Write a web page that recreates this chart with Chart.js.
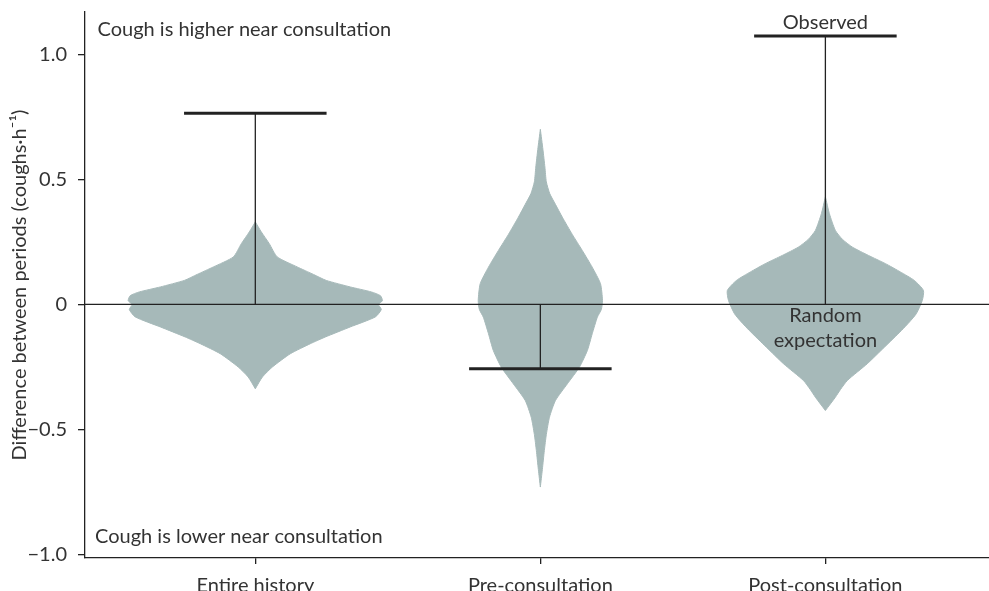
<!DOCTYPE html>
<html>
<head>
<meta charset="utf-8">
<script src="https://cdn.jsdelivr.net/npm/chart.js@4.4.1/dist/chart.umd.min.js"></script>
<style>
  html, body { margin: 0; padding: 0; background: #fff; }
  #wrap { width: 989px; height: 591px; }
</style>
</head>
<body>
<div id="wrap"><canvas id="chart" width="989" height="591"></canvas></div>
<script>
// categories sit at x = 1, 2, 3 on a linear axis
const categories = ['Entire history', 'Pre-consultation', 'Post-consultation'];
const catPos = [1, 2, 3];
const observed = [0.764, -0.257, 1.073];
const yTicks = [-1, -0.5, 0, 0.5, 1];

// violin outlines: y levels (top to bottom) and half-width in x units
const entireY = [0.33, 0.29, 0.243, 0.19, 0.15, 0.12, 0.096, 0.07, 0.05, 0.035, 0.015, 0, -0.02, -0.05, -0.09, -0.13, -0.157, -0.197, -0.25, -0.29, -0.337];
const entireW = [0, 0.021, 0.049, 0.077, 0.147, 0.204, 0.249, 0.333, 0.407, 0.439, 0.446, 0.432, 0.442, 0.421, 0.333, 0.246, 0.193, 0.123, 0.060, 0.025, 0];

const preY = [0.70, 0.62, 0.549, 0.49, 0.443, 0.40, 0.349, 0.28, 0.216, 0.149, 0.083, 0.016, -0.02, -0.051, -0.117, -0.184, -0.251, -0.317, -0.384, -0.451, -0.52, -0.584, -0.66, -0.73];
const preW = [0, 0.009, 0.016, 0.021, 0.033, 0.053, 0.077, 0.112, 0.147, 0.182, 0.211, 0.218, 0.214, 0.200, 0.182, 0.165, 0.137, 0.095, 0.053, 0.032, 0.021, 0.014, 0.007, 0];

const postY = [0.43, 0.363, 0.296, 0.26, 0.229, 0.196, 0.163, 0.13, 0.096, 0.056, 0.016, -0.037, -0.07, -0.104, -0.171, -0.237, -0.304, -0.34, -0.371, -0.424];
const postW = [0, 0.014, 0.035, 0.060, 0.095, 0.151, 0.211, 0.263, 0.312, 0.344, 0.340, 0.319, 0.295, 0.267, 0.207, 0.147, 0.077, 0.053, 0.035, 0];

const X_MIN = 0.4025, X_MAX = 3.574;
const Y_MIN = -1.0136, Y_MAX = 1.169;
const BAR_HALF = 0.25;

const FONT = "'Source Sans Pro', Lato, 'Noto Sans', sans-serif";
const TEXT = '#333333';
const INK = '#222222';
const VIOLIN = '#a6b9b9';

// right side going down, then left side going back up -> closed outline
function violinPoints(center, ys, ws) {
    const right = ys.map((y, i) => ({ x: center + ws[i], y: y }));
    const left = ys.map((y, i) => ({ x: center - ws[i], y: y })).reverse();
    return right.concat(left);
}

const datasets = [];

// observed values (drawn first = on top)
observed.forEach((v, i) => {
    datasets.push({
        data: [{ x: catPos[i] - BAR_HALF, y: v }, { x: catPos[i] + BAR_HALF, y: v }],
        borderColor: INK, borderWidth: 3, showLine: true, pointRadius: 0
    });
    datasets.push({
        data: [{ x: catPos[i], y: 0 }, { x: catPos[i], y: v }],
        borderColor: INK, borderWidth: 1.3, showLine: true, pointRadius: 0
    });
});

// random expectation line
datasets.push({
    data: [{ x: X_MIN, y: 0 }, { x: X_MAX, y: 0 }],
    borderColor: INK, borderWidth: 1.3, showLine: true, pointRadius: 0
});

[[entireY, entireW], [preY, preW], [postY, postW]].forEach(([ys, ws], i) => {
    datasets.push({
        data: violinPoints(catPos[i], ys, ws),
        showLine: true, pointRadius: 0, tension: 0.2,
        borderColor: VIOLIN, backgroundColor: VIOLIN, borderWidth: 1,
        fill: 'shape'
    });
});

const notes = {
    id: 'notes',
    afterDatasetsDraw(chart) {
        const c = chart.ctx, xs = chart.scales.x, ys = chart.scales.y, a = chart.chartArea;
        c.save();
        c.fillStyle = TEXT;
        c.font = '20px ' + FONT;
        c.textBaseline = 'alphabetic';
        c.textAlign = 'left';
        c.fillText('Cough is higher near consultation', a.left + 12.5, a.top + 24);
        c.fillText('Cough is lower near consultation', a.left + 10, a.bottom - 15);
        c.textAlign = 'center';
        const px = xs.getPixelForValue(catPos[2]);
        c.fillText('Observed', px, ys.getPixelForValue(observed[2]) - 7);
        c.fillText('Random', px, ys.getPixelForValue(0) + 17.5);
        c.fillText('expectation', px, ys.getPixelForValue(0) + 42.5);
        c.restore();
    }
};

new Chart(document.getElementById('chart').getContext('2d'), {
    type: 'scatter',
    data: { datasets: datasets },
    plugins: [notes],
    options: {
        responsive: false,
        animation: false,
        layout: { padding: { top: 12, right: 0, bottom: 0, left: 0 } },
        plugins: { legend: { display: false }, tooltip: { enabled: false } },
        scales: {
            x: {
                type: 'linear', min: X_MIN, max: X_MAX,
                afterBuildTicks: s => { s.ticks = catPos.map(v => ({ value: v })); },
                afterFit: s => { s.height = 33; s.paddingLeft = 0; s.paddingRight = 0; },
                ticks: {
                    callback: v => categories[catPos.indexOf(v)] || '',
                    color: TEXT, font: { family: FONT, size: 20 },
                    padding: 10, maxRotation: 0, autoSkip: false
                },
                grid: { drawOnChartArea: false, tickLength: 6, color: INK, lineWidth: 1.3 },
                border: { color: INK, width: 1.3 }
            },
            y: {
                type: 'linear', min: Y_MIN, max: Y_MAX,
                afterBuildTicks: s => { s.ticks = yTicks.map(v => ({ value: v })); },
                afterFit: s => { s.width = 85; s.paddingTop = 0; s.paddingBottom = 0; },
                ticks: {
                    callback: v => v === 0 ? '0' : v.toFixed(1).replace('-', '\u2212'),
                    color: TEXT, font: { family: FONT, size: 20 }, padding: 11
                },
                grid: { drawOnChartArea: false, tickLength: 7, color: INK, lineWidth: 1.3 },
                border: { color: INK, width: 1.3 },
                title: {
                    display: true,
                    text: 'Difference between periods (coughs\u00b7h\u207b\u00b9)',
                    color: TEXT, font: { family: FONT, size: 20 },
                    padding: { top: 8, bottom: 0 }
                }
            }
        }
    }
});
</script>
</body>
</html>
